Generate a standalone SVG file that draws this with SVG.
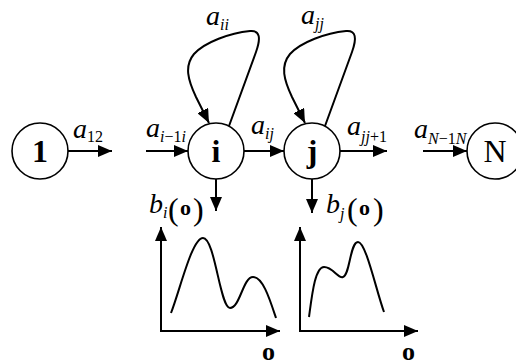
<svg xmlns="http://www.w3.org/2000/svg" width="516" height="360" viewBox="0 0 516 360">
<defs>
<marker id="ah" viewBox="0 0 14 12" refX="14" refY="6" markerWidth="14" markerHeight="12" markerUnits="userSpaceOnUse" orient="auto">
<path d="M0,0 L14,6 L0,12 z" fill="#000"/>
</marker>
</defs>
<style>
.node{fill:#fff;stroke:#000;stroke-width:1.6}
.edge{fill:none;stroke:#000;stroke-width:2;marker-end:url(#ah)}
.plain{fill:none;stroke:#000;stroke-width:2}
text{font-family:'Liberation Serif',serif}
.lbl{font-weight:bold;font-size:32px;text-anchor:middle}
.it{font-style:italic;font-size:28px}
.sub{font-style:italic;font-size:16px}
.subn{font-style:normal;font-size:16px}
.par{font-size:32px}
.bo{font-weight:bold;font-size:22px}
.bo2{font-weight:bold;font-size:26px}
</style>
<g id="connectors">
<line class="edge" x1="68" y1="151" x2="112" y2="151"/>
<line class="edge" x1="146" y1="151" x2="188" y2="151"/>
<line class="edge" x1="244" y1="151" x2="284" y2="151"/>
<line class="edge" x1="340" y1="151" x2="387" y2="151"/>
<line class="edge" x1="423" y1="151" x2="467" y2="151"/>
<path class="edge" d="M229,126 L256,52 C261,38 260,30 250,31 C230,33 205,42 194,54 C184,66 188,80 196,97 L209,123"/>
<path class="edge" d="M325,126 L352,52 C357,38 356,30 346,31 C326,33 301,42 290,54 C280,66 284,80 292,97 L305,123"/>
<line class="edge" x1="216" y1="179" x2="216" y2="211"/>
<line class="edge" x1="312" y1="179" x2="312" y2="213"/>
</g>
<g id="node1">
<circle class="node" cx="40" cy="151" r="28"/>
<text class="lbl" x="40" y="162">1</text>
</g>
<g id="nodei">
<circle class="node" cx="216" cy="151" r="28"/>
<text class="lbl" x="216" y="162">i</text>
</g>
<g id="nodej">
<circle class="node" cx="312" cy="151" r="28"/>
<text class="lbl" x="312" y="162">j</text>
</g>
<g id="nodeN">
<circle class="node" cx="495" cy="151" r="28"/>
<text class="lbl" x="495" y="162" style="font-weight:normal">N</text>
</g>
<g id="labels">
<text x="73" y="138"><tspan class="it">a</tspan><tspan class="subn" dy="4">12</tspan></text>
<text x="146" y="137"><tspan class="it">a</tspan><tspan class="sub" dy="5">i</tspan><tspan class="subn">−1</tspan><tspan class="sub">i</tspan></text>
<text x="251" y="134"><tspan class="it">a</tspan><tspan class="sub" dy="5">ij</tspan></text>
<text x="347" y="135"><tspan class="it">a</tspan><tspan class="sub" dy="7">jj</tspan><tspan class="subn">+1</tspan></text>
<text x="414" y="138"><tspan class="it">a</tspan><tspan class="sub" dy="6">N</tspan><tspan class="subn">−1</tspan><tspan class="sub">N</tspan></text>
<text x="206" y="25"><tspan class="it">a</tspan><tspan class="sub" dy="5">ii</tspan></text>
<text x="301" y="24"><tspan class="it">a</tspan><tspan class="sub" dy="5">jj</tspan></text>
<text x="149" y="213"><tspan class="it">b</tspan><tspan class="sub" dy="5">i</tspan></text>
<text x="168" y="220" class="par">(</text>
<text x="180" y="215" class="bo">o</text>
<text x="193" y="220" class="par">)</text>
<text x="326" y="213"><tspan class="it">b</tspan><tspan class="sub" dy="6">j</tspan></text>
<text x="347" y="220" class="par">(</text>
<text x="359" y="215" class="bo">o</text>
<text x="373" y="220" class="par">)</text>
</g>
<g id="plot_i">
<line class="edge" x1="161" y1="331" x2="161" y2="227"/>
<line class="edge" x1="160" y1="331" x2="280" y2="331"/>
<path class="plain" d="M171,313 C180,290 192,238 203,238 C215,238 220,308 230,308 C240,308 243,277 253,277 C263,277 270,300 276,318"/>
<text x="262" y="360" class="bo2">o</text>
</g>
<g id="plot_j">
<line class="edge" x1="300" y1="332" x2="300" y2="227"/>
<line class="edge" x1="299" y1="331" x2="418" y2="331"/>
<path class="plain" d="M309,317 C312,295 315,267 324,267 C333,267 338,279 343,277 C350,275 350,242 358,242 C366,242 376,290 384,312"/>
<text x="402" y="360" class="bo2">o</text>
</g>
</svg>
